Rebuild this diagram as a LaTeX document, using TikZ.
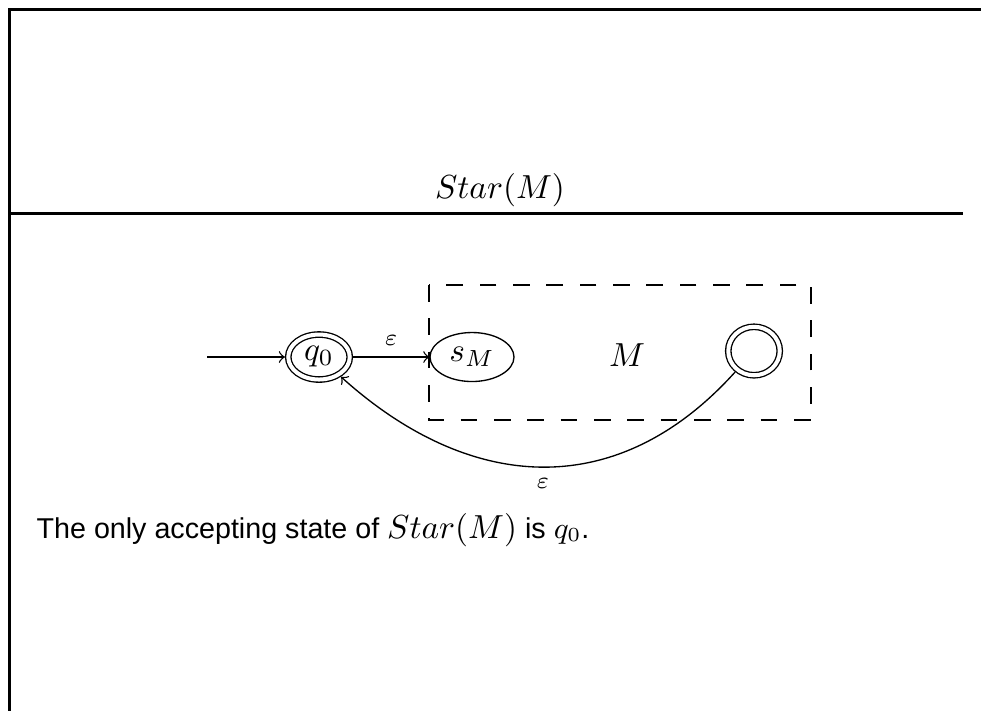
\documentclass[tikz,border=0pt]{standalone}
\usepackage{fontspec}
\newfontfamily\sansbody{Liberation Sans}
\usetikzlibrary{shapes.geometric}
\begin{document}
\begin{tikzpicture}[x=0.3pt,y=-0.3pt,
  frameline/.style={line width=0.9pt},
  mathten/.style={font=\fontsize{10}{12}\selectfont},
  state/.style={ellipse, draw, line width=0.4pt, inner sep=0pt, mathten},
  acc/.style={state, double, double distance=1.2pt, outer sep=1pt},
  edge/.style={->, line width=0.4pt},
  elabel/.style={font=\fontsize{7}{8}\selectfont},
  mbox/.style={draw, dash pattern=on 5pt off 5pt, line width=0.4pt}
]
\useasboundingbox (0,0) rectangle (981,711);
% frame
\draw[frameline] (981,9) -- (9,9) -- (9,711);
% title and rule
\node[anchor=base, mathten, inner sep=0pt] (title) at (500,198) {$Star(M)$};
\coordinate (rl) at (9,213);
\coordinate (rr) at (963,213);
\draw[frameline] (rl) -- (rr);
% machine box
\draw[mbox] (429,285) rectangle (811,420);
% states
\node[acc, minimum width=18.45pt, minimum height=13.5pt] (q0) at (319,357) {$q_0$};
\node[state, minimum width=25.2pt, minimum height=14.7pt] (sM) at (472,357) {$s_M$};
\node[acc, minimum width=15.45pt, minimum height=14.55pt] (f) at (754,351) {};
\node[mathten] (M) at (627,355) {$M$};
\coordinate (start) at (207,357);
% edges
\draw[edge] (start) -- (q0);
\draw[edge] (q0) -- node[above, elabel] {$\varepsilon$} (sM);
\draw[edge] (f.228) .. controls +(-117,130) and +(130,117) .. node[below, elabel] {$\varepsilon$} (q0.-42);
% note
\node[anchor=base west, inner sep=0pt] (note) at (36,538)
  {\sansbody\fontsize{8.6}{11}\selectfont The only accepting state of \fontsize{10}{12}\selectfont$Star(M)$\fontsize{8.6}{11}\selectfont{} is $q_0$.};
\end{tikzpicture}
\end{document}
